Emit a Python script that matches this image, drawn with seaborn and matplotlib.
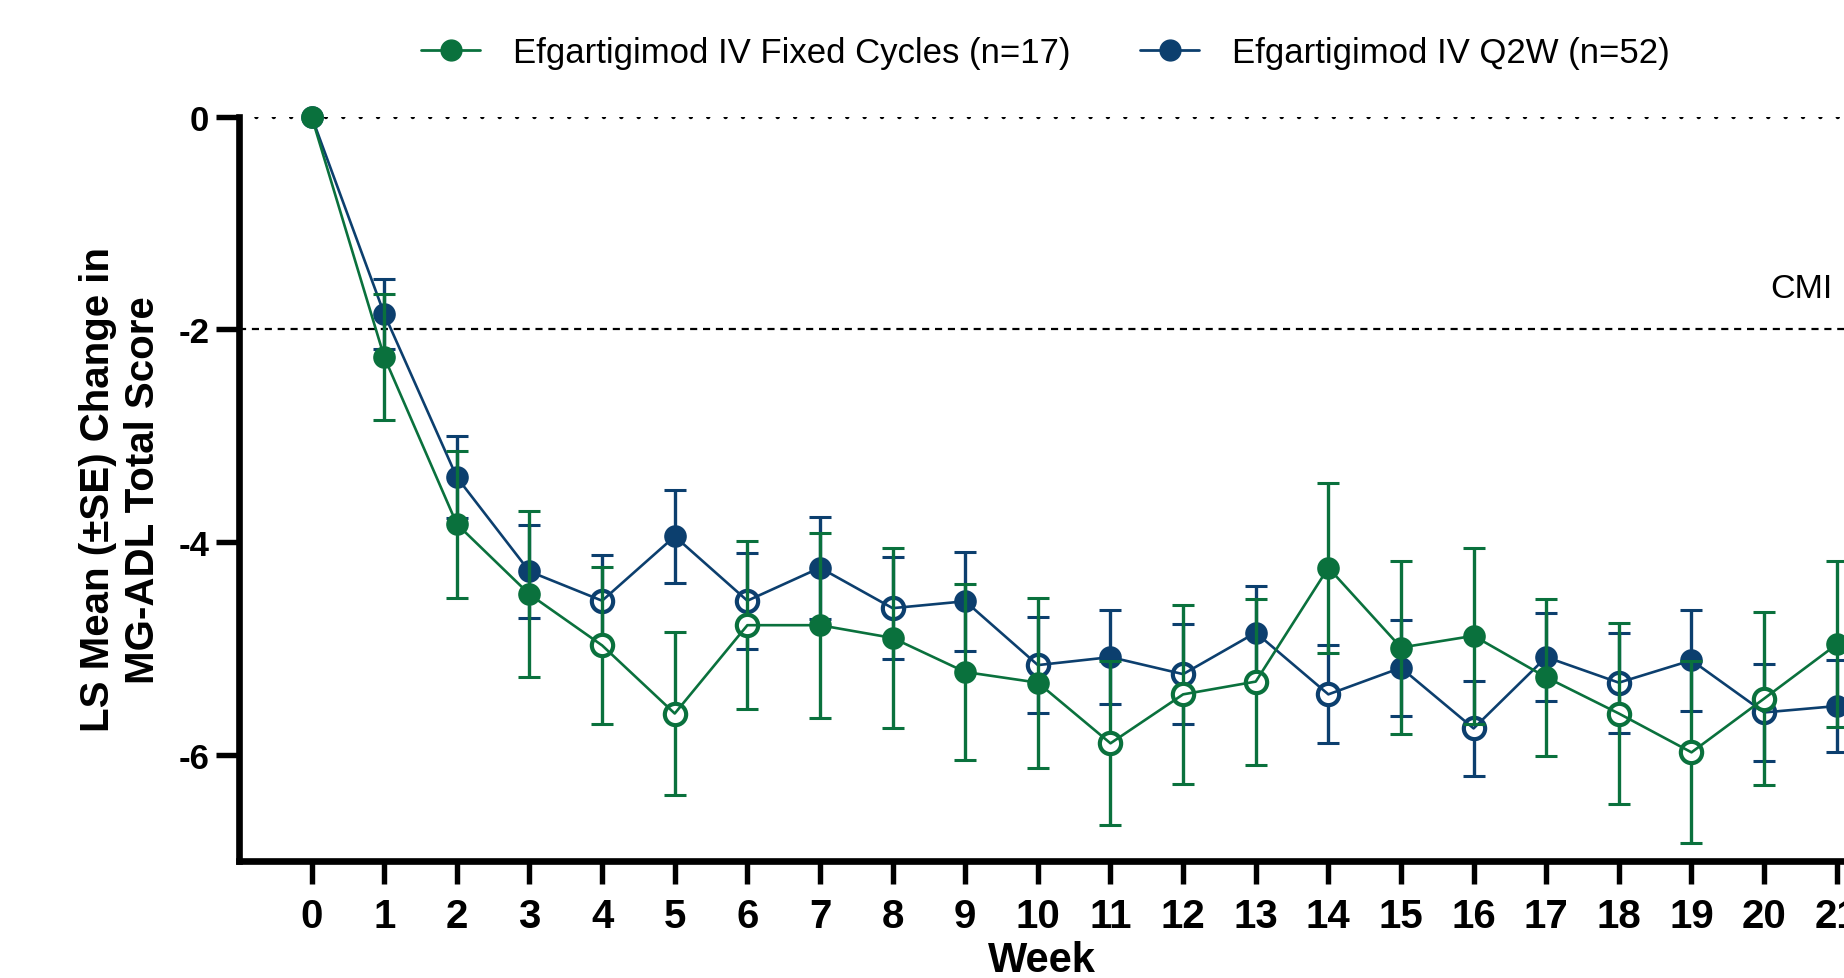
import numpy as np
import pandas as pd
import seaborn as sns
import matplotlib.pyplot as plt
from matplotlib.lines import Line2D

weeks = list(range(22))
fixed_mean = [0, -2.26, -3.83, -4.49, -4.97, -5.61, -4.78, -4.78, -4.90, -5.22, -5.32,
              -5.89, -5.43, -5.31, -4.24, -4.99, -4.88, -5.27, -5.61, -5.975, -5.47, -4.96]
fixed_se = [0, 0.59, 0.69, 0.78, 0.74, 0.77, 0.79, 0.87, 0.85, 0.83, 0.80,
            0.77, 0.84, 0.78, 0.80, 0.81, 0.83, 0.74, 0.85, 0.855, 0.81, 0.78]
fixed_filled = [1, 1, 1, 1, 0, 0, 0, 1, 1, 1, 1, 0, 0, 0, 1, 1, 1, 1, 0, 0, 0, 1]

q2w_mean = [0, -1.855, -3.39, -4.275, -4.55, -3.945, -4.55, -4.24, -4.62, -4.555, -5.155,
            -5.08, -5.24, -4.85, -5.43, -5.18, -5.75, -5.08, -5.32, -5.11, -5.60, -5.54]
q2w_se = [0, 0.33, 0.385, 0.44, 0.43, 0.44, 0.45, 0.48, 0.48, 0.465, 0.45,
          0.44, 0.47, 0.435, 0.46, 0.45, 0.45, 0.415, 0.47, 0.475, 0.455, 0.43]
q2w_filled = [1, 1, 1, 1, 0, 1, 0, 1, 0, 1, 0, 1, 0, 1, 0, 1, 0, 1, 0, 1, 0, 1]

groups = ["Efgartigimod IV Fixed Cycles (n=17)", "Efgartigimod IV Q2W (n=52)"]
green = "#0A713D"
blue = "#0C3F6E"
palette = {groups[0]: green, groups[1]: blue}

df = pd.concat([
    pd.DataFrame({"week": weeks, "mean": fixed_mean, "se": fixed_se,
                  "filled": np.array(fixed_filled, bool), "group": groups[0]}),
    pd.DataFrame({"week": weeks, "mean": q2w_mean, "se": q2w_se,
                  "filled": np.array(q2w_filled, bool), "group": groups[1]}),
], ignore_index=True)

sns.set_style("ticks")
plt.rcParams["font.family"] = ["Liberation Sans", "DejaVu Sans"]
plt.rcParams["axes.unicode_minus"] = False
for k in ["text.color", "axes.labelcolor", "xtick.color", "ytick.color", "axes.edgecolor"]:
    plt.rcParams[k] = "black"

fig = plt.figure(figsize=(18.44, 9.79), dpi=100)
ax = fig.add_axes([239 / 1844, 1 - 862.4 / 979, 1 - 239 / 1844, (862.4 - 117.6) / 979])

# reference lines
ax.axhline(0, color="black", lw=3.2, linestyle=(0, (0.01, 3.9)), dash_capstyle="round", zorder=1)
ax.axhline(-2, color="black", lw=1.6, linestyle=(0, (3.2, 2.6)), zorder=1)

# blue drawn first, green on top
for i, g in enumerate([groups[1], groups[0]]):
    z = 2 + 3 * i
    c = palette[g]
    d = df[df.group == g]
    e = d[d.se > 0]
    ax.errorbar(e["week"], e["mean"], yerr=e["se"], fmt="none", ecolor=c,
                elinewidth=2.4, capsize=7.6, capthick=2.2, zorder=z)
    sns.scatterplot(data=d[d.filled], x="week", y="mean", color=c, s=265,
                    linewidth=0, legend=False, zorder=z + 1, clip_on=False, ax=ax)
    o = d[~d.filled]
    ax.scatter(o["week"], o["mean"], s=235, facecolors="white", edgecolors=c,
               linewidths=3.0, zorder=z + 1, clip_on=False)
    sns.lineplot(data=d, x="week", y="mean", color=c, lw=1.9, zorder=z + 2, ax=ax)

ax.set_xlim(-1, 21.1)
ax.set_ylim(-7, 0)
ax.set_xticks(weeks)
ax.set_xticklabels([str(w) for w in weeks], fontsize=29, fontweight="bold")
ax.set_yticks([0, -2, -4, -6])
ax.set_yticklabels(["0", "-2", "-4", "-6"], fontsize=25, fontweight="bold")
ax.tick_params(axis="both", width=3.9, length=16.5, color="black")
ax.tick_params(axis="x", pad=9)
ax.tick_params(axis="y", pad=5)
sns.despine(ax=ax)
for s in ["left", "bottom"]:
    ax.spines[s].set_linewidth(4.8)
    ax.spines[s].set_color("black")

ax.set_xlabel("Week", fontsize=30, fontweight="bold", labelpad=4)
ax.set_ylabel("LS Mean (±SE) Change in\nMG-ADL Total Score", fontsize=29,
              fontweight="bold", linespacing=1.22, va="center")
ax.yaxis.set_label_coords(-0.074, 0.5)

ax.text(20.94, -1.62, "CMI", ha="right", va="center", fontsize=24.5)

handles = [Line2D([], [], color=palette[g], lw=2, marker="o", ms=15) for g in groups]
fig.legend(handles, groups, loc="center", bbox_to_anchor=(0.567, 0.945), ncol=2,
           frameon=False, fontsize=25, handlelength=1.7, handletextpad=0.95,
           columnspacing=2.0)

fig.savefig("out.png", dpi=100)
